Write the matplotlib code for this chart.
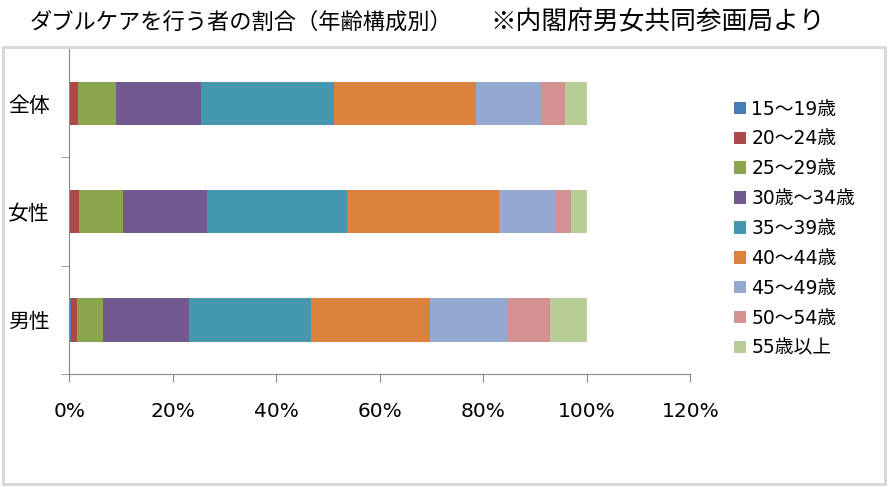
import numpy as np
import matplotlib.pyplot as plt
from matplotlib.patches import Rectangle

plt.rcParams['font.family'] = ['Noto Sans CJK JP', 'DejaVu Sans']
NUMFONT = ['DejaVu Sans', 'Noto Sans CJK JP']

groups = ['全体', '女性', '男性']
ages = ['15～19歳', '20～24歳', '25～29歳', '30歳～34歳', '35～39歳',
        '40～44歳', '45～49歳', '50～54歳', '55歳以上']
# percent shares per age group, rows follow groups
total = [0.1, 1.5, 7.4, 16.5, 25.7, 27.3, 12.6, 4.6, 4.3]
female = [0.0, 1.8, 8.5, 16.3, 27.1, 29.4, 11.0, 2.9, 3.0]
male = [0.3, 1.1, 5.2, 16.5, 23.6, 22.9, 15.2, 8.0, 7.2]
colors = ['#4A7EBB', '#AD4A47', '#8BA64E', '#72598E', '#4398AF',
          '#DB823E', '#95A8CF', '#D39292', '#B8CE96']

data = np.array([total, female, male]) / 100.0

fig = plt.figure(figsize=(8.89, 4.87), dpi=100)
fig.patches.append(Rectangle((0.003, 0.006), 0.993, 0.897, transform=fig.transFigure,
                             fill=False, edgecolor='#D9D9D9', linewidth=2.2))

ax = fig.add_axes([0.078, 0.232, 0.6985, 0.667])
y = np.arange(len(groups))
left = np.zeros(len(groups))
for i, lab in enumerate(ages):
    ax.barh(y, data[:, i], left=left, height=0.4, color=colors[i], label=lab)
    left += data[:, i]

ax.set_ylim(2.5, -0.5)
ax.set_xlim(0, 1.2)
ax.set_xticks(np.arange(0, 1.21, 0.2))
ax.set_xticklabels([f'{int(round(v * 100))}%' for v in np.arange(0, 1.21, 0.2)],
                   fontsize=14.5, family=NUMFONT)
ax.set_yticks(y)
ax.set_yticklabels(groups, fontsize=15)
ax.set_yticks([0.5, 1.5, 2.5], minor=True)
ax.tick_params(axis='y', which='major', length=0, pad=14)
ax.tick_params(axis='y', which='minor', length=6, color='#888888', direction='out')
ax.tick_params(axis='x', length=6, color='#888888', direction='out', pad=14)
for s in ['top', 'right']:
    ax.spines[s].set_visible(False)
ax.spines['left'].set_color('#888888')
ax.spines['bottom'].set_color('#888888')

fig.text(30 / 889, 1 - 22 / 487, 'ダブルケアを行う者の割合（年齢構成別）', fontsize=16,
         ha='left', va='center')
fig.text(490 / 889, 1 - 22 / 487, '※内閣府男女共同参画局より', fontsize=18.5,
         ha='left', va='center')

fig.legend(loc='upper left', bbox_to_anchor=(726 / 889, 1 - 92 / 487), frameon=False,
           prop={'family': NUMFONT, 'size': 13.5}, handlelength=0.65, handleheight=0.65,
           handletextpad=0.3, labelspacing=0.58, borderaxespad=0)

fig.savefig('out.png', dpi=100)
